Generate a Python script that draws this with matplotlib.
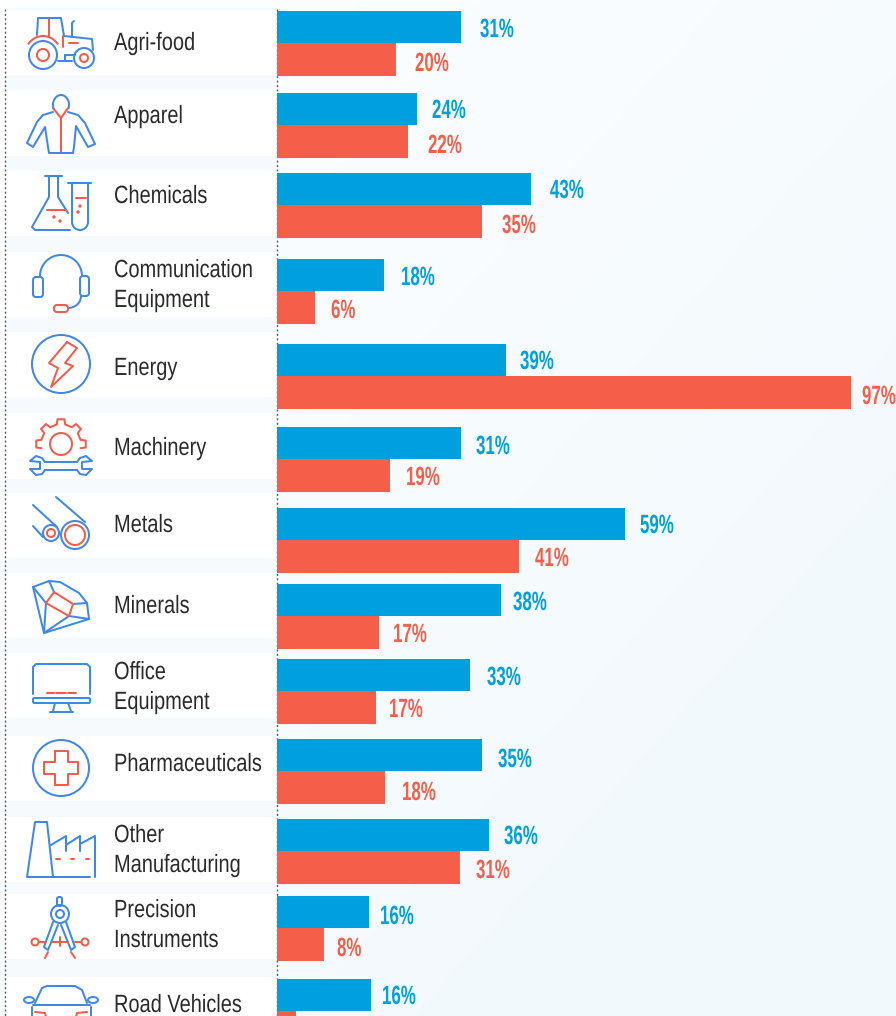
import numpy as np
import matplotlib
matplotlib.use("Agg")
import matplotlib.pyplot as plt
from matplotlib.patches import Circle, Ellipse, FancyBboxPatch, Rectangle, Arc
from matplotlib.patheffects import AbstractPathEffect
from matplotlib.text import Text
from matplotlib.transforms import Affine2D, Bbox

# ---- data ----
CATEGORIES = ["Agri-food", "Apparel", "Chemicals", "Communication\nEquipment", "Energy", "Machinery",
              "Metals", "Minerals", "Office\nEquipment", "Pharmaceuticals", "Other\nManufacturing",
              "Precision\nInstruments", "Road Vehicles"]
BLUE_VALUES = [31.1, 23.6, 42.9, 18.1, 38.6, 31.1, 58.8, 37.8, 32.6, 34.6, 35.8, 15.6, 15.9]
RED_VALUES = [20.1, 22.1, 34.6, 6.4, 97.0, 19.1, 40.9, 17.2, 16.7, 18.2, 30.9, 7.9, 3.2]

# ---- layout (pixels) ----
W, H = 896, 1016
X0, PX_PER_PCT = 277, 5.92
ROW_MID = [43, 125, 205, 291, 376, 459, 540, 616, 691, 771, 851, 928, 1011]
LABEL_BASE = [50, 123, 203, 307, 375, 455, 532, 613, 709, 771, 872, 947, 1012]
BLUE_LX = [480, 432, 550, 401, 520, 476, 640, 513, 487, 498, 504, 380, 382]
RED_LX = [415, 428, 502, 331, 862, 406, 535, 393, 389, 402, 476, 337]
BLUE_BASE = [37, 118, 198, 285, 369, 454, 533, 610, 685, 767, 844, 924, 1004]
RED_BASE = [71, 153, 233, 318, 404, 485, 566, 642, 717, 800, 878, 956]
WHITE_ROWS = [(10, 75), (91, 156), (171, 236), (252, 317), (332, 397), (413, 479), (493, 558),
              (573, 638), (653, 718), (736, 801), (817, 882), (894, 959), (977, 1016)]
BAR_H = 32.5
BLUE, RED = "#009fdd", "#f55f4a"
IC_B, IC_R = "#3f88e8", "#f25c4a"
FONT = ["Liberation Sans", "DejaVu Sans"]


class Condense(AbstractPathEffect):
    """Narrow a text horizontally about its own origin (the reference face is condensed)."""

    def __init__(self, sx):
        super().__init__()
        self.sx = sx

    def draw_path(self, renderer, gc, tpath, affine, rgbFace=None):
        renderer.draw_path(gc, tpath, Affine2D().scale(self.sx, 1) + affine, rgbFace)


class CondensedText(Text):
    """Left-anchored real text drawn narrower, reporting the width it actually occupies."""

    def __init__(self, *args, sx=1.0, **kwargs):
        super().__init__(*args, **kwargs)
        self.sx = sx
        self.set_path_effects([Condense(sx)])

    def get_window_extent(self, renderer=None, dpi=None):
        b = super().get_window_extent(renderer, dpi)
        return Bbox.from_extents(b.x0, b.y0, b.x0 + b.width * self.sx, b.y1)


fig = plt.figure(figsize=(W / 100, H / 100), dpi=100)

# background gradient
bg = fig.add_axes([0, 0, 1, 1], zorder=0)
bg.axis("off")
yy, xx = np.mgrid[0:1:200j, 0:1:200j]
t = np.clip((xx + yy) / 1.6, 0, 1)[..., None]
c0 = np.array([0xfe, 0xff, 0xff]) / 255
c1 = np.array([0xf2, 0xf9, 0xfd]) / 255
bg.imshow(c0 * (1 - t) + c1 * t, extent=(0, 1, 0, 1), origin="upper", aspect="auto")
bg.set_xlim(0, 1)
bg.set_ylim(0, 1)

# pixel-space overlay: panels, dotted rules, icons, labels
px = fig.add_axes([0, 0, 1, 1], zorder=1)
px.set_xlim(0, W)
px.set_ylim(H, 0)
px.axis("off")
px.patch.set_alpha(0)

px.add_patch(Rectangle((5, 8), 271, H, fc="#f6fafd", ec="none"))
for a, b in WHITE_ROWS:
    px.add_patch(Rectangle((5, a), 271, b - a, fc="white", ec="none"))
for x in (4.7, 276.5):
    px.plot([x, x], [9, H], color="#555555", lw=1.0, ls=(0, (1.4, 1.8)))

for name, y in zip(CATEGORIES, LABEL_BASE):
    px.add_artist(CondensedText(114, y, name, family=FONT, fontsize=18, color="#2a2a2a",
                                va="baseline", ha="left", linespacing=1.31, sx=0.80))

LW = 1.45


def L(col, *pts, close=False):
    p = list(pts) + ([pts[0]] if close else [])
    xs, ys = zip(*p)
    px.plot(xs, ys, color=col, lw=LW, solid_capstyle="round", solid_joinstyle="round")


def C(col, x, y, r):
    px.add_patch(Circle((x, y), r, fc="none", ec=col, lw=LW))


def D(col, x, y, r=1.7):
    px.add_patch(Circle((x, y), r, fc=col, ec="none"))


def A(col, x, y, rx, ry, a1, a2):
    px.add_patch(Arc((x, y), 2 * rx, 2 * ry, theta1=a1, theta2=a2, ec=col, lw=LW))


def RR(col, x0, y0, x1, y1, r=3):
    px.add_patch(FancyBboxPatch((x0 + r, y0 + r), x1 - x0 - 2 * r, y1 - y0 - 2 * r,
                                boxstyle=f"round,pad={r},rounding_size={r}", fc="none", ec=col, lw=LW))


# tractor
L(IC_B, (37, 35), (38, 18), (61, 18), (64, 36), (92, 39), (93, 50))
L(IC_B, (72, 36), (72, 23), (74, 21))
C(IC_B, 43, 55, 14); C(IC_R, 43, 55, 6)
C(IC_B, 84, 58, 10); C(IC_R, 84, 58, 4)
A(IC_R, 43, 55, 18, 19, 215, 325)
L(IC_R, (49, 19), (49, 36)); L(IC_R, (63, 36), (63, 47)); L(IC_R, (69, 43), (78, 43))
L(IC_B, (58, 61), (72, 61)); L(IC_B, (65, 55), (65, 61)); L(IC_B, (65, 55), (75, 55))

# apparel
A(IC_B, 61, 105, 8, 10, 150, 390)
L(IC_R, (53, 108), (61, 118), (68, 108)); L(IC_R, (61, 118), (61, 153))
L(IC_B, (53, 112), (43, 115), (37, 122), (27, 143), (33, 147), (45, 127), (48, 147), (49, 153),
  (73, 153), (74, 147), (76, 126), (88, 147), (95, 144), (85, 123), (78, 115), (68, 112))

# chemicals
L(IC_B, (45, 176), (62, 176))
L(IC_B, (49, 176), (49, 197), (32, 227), (35, 230), (70, 230))
L(IC_B, (58, 176), (58, 197), (68, 213))
L(IC_R, (47, 210), (66, 210)); D(IC_R, 54, 217); D(IC_R, 60, 221)
L(IC_B, (68, 183), (91, 183))
L(IC_B, (72, 183), (72, 222)); L(IC_B, (88, 183), (88, 222))
A(IC_B, 80, 222, 8, 8, 0, 180)
L(IC_R, (76, 198), (86, 198)); D(IC_R, 80, 206); D(IC_R, 78, 212)

# headset
A(IC_B, 61, 276, 21, 21, 180, 360)
RR(IC_B, 33, 277, 43, 297, 3); RR(IC_B, 80, 276, 89, 296, 3)
A(IC_B, 68, 296, 13, 12, 0, 90)
RR(IC_R, 54, 305, 68, 312, 3)

# energy
C(IC_B, 61, 364, 29)
L(IC_R, (67, 342), (77, 348), (65, 363), (73, 366), (51, 387), (58, 368), (49, 363), close=True)

# machinery
teeth = []
for a in (0, 45, 90, 135, 180):
    for da, r in ((-12, 20), (-8, 25), (8, 25), (12, 20)):
        th = np.radians(a + da)
        teeth.append((61 + r * np.cos(th), 444 - r * np.sin(th)))
L(IC_R, *teeth)
C(IC_R, 61, 444, 11)
L(IC_B, (45, 462), (77, 462)); L(IC_B, (45, 470), (77, 470))
L(IC_B, (45, 462), (42, 458), (36, 456), (30, 461), (40, 462), (40, 469), (30, 469), (36, 475), (42, 474), (45, 470))
L(IC_B, (77, 462), (80, 458), (86, 456), (92, 461), (82, 462), (82, 469), (92, 469), (86, 475), (80, 474), (77, 470))

# metals
L(IC_B, (33, 505), (57, 527)); L(IC_B, (56, 497), (85, 522)); L(IC_B, (33, 526), (43, 537))
C(IC_B, 51, 533, 8); C(IC_R, 51, 533, 4)
C(IC_B, 75, 535, 14); C(IC_R, 75, 535, 10)

# minerals
L(IC_B, (33, 587), (49, 581), (60, 582), (79, 593), (87, 603), (89, 619), (44, 633), close=True)
L(IC_B, (33, 587), (46, 603), (44, 633), (69, 616), (89, 619))
L(IC_B, (73, 604), (87, 603)); L(IC_B, (49, 581), (54, 592))
L(IC_R, (54, 592), (73, 604), (69, 616), (46, 603), close=True)

# office
L(IC_B, (33, 694), (33, 667), (36, 664), (87, 664), (90, 667), (90, 694))
RR(IC_B, 33, 698, 90, 703, 1.5)
L(IC_B, (55, 703), (53, 711)); L(IC_B, (68, 703), (71, 711)); L(IC_B, (50, 712), (73, 712))
L(IC_R, (47, 693), (54, 693)); L(IC_R, (56, 693), (66, 693)); L(IC_R, (68, 693), (76, 693))

# pharma
C(IC_B, 61, 768, 28)
L(IC_R, (55, 751), (68, 751), (68, 762), (78, 762), (78, 774), (68, 774), (68, 785), (55, 785),
  (55, 774), (44, 774), (44, 762), (55, 762), close=True)

# factory
L(IC_B, (53, 877), (47, 822), (35, 822), (27, 877), (90, 877))
L(IC_B, (95, 877), (95, 836), (80, 844), (80, 851)); L(IC_B, (80, 844), (80, 836), (66, 845), (66, 851))
L(IC_B, (66, 845), (66, 836), (51, 845))
for a, b in ((56, 60), (71, 74), (86, 89)):
    L(IC_R, (a, 859), (b, 859))

# compass
RR(IC_B, 57, 897, 62, 906, 2)
C(IC_B, 60, 914, 9); C(IC_B, 60, 914, 4)
L(IC_B, (53, 922), (44, 947), (48, 950), (58, 925))
L(IC_B, (66, 922), (75, 947), (71, 950), (61, 925))
L(IC_R, (48, 952), (45, 958)); L(IC_R, (71, 952), (75, 958))
C(IC_R, 35, 942, 3.5); C(IC_R, 85, 942, 3.5)
L(IC_R, (39, 942), (45, 942)); L(IC_R, (52, 942), (68, 942)); L(IC_R, (75, 942), (81, 942))
L(IC_R, (60, 937), (60, 946))

# car
L(IC_B, (35, 1003), (42, 988), (47, 986), (75, 986), (82, 990), (87, 1003))
L(IC_B, (33, 1005), (90, 1005))
L(IC_B, (32, 1007), (32, 1017)); L(IC_B, (91, 1007), (91, 1017))
px.add_patch(Ellipse((29, 1000), 10, 6, fc="none", ec=IC_B, lw=LW))
px.add_patch(Ellipse((93, 1000), 10, 6, fc="none", ec=IC_B, lw=LW))
L(IC_R, (35, 1012), (45, 1013), (46, 1017)); L(IC_R, (87, 1012), (77, 1013), (76, 1017))

# bars on a value axis
ax = fig.add_axes([0, 0, 1, 1], zorder=2)
ax.set_xlim(-X0 / PX_PER_PCT, (W - X0) / PX_PER_PCT)
ax.set_ylim(H, 0)
ax.axis("off")
ax.patch.set_alpha(0)
mid = np.array(ROW_MID, dtype=float)
ax.barh(mid - BAR_H, BLUE_VALUES, height=BAR_H, align="edge", color=BLUE, lw=0)
ax.barh(mid, RED_VALUES, height=BAR_H, align="edge", color=RED, lw=0)


def value_label(value, lx, base, col):
    ax.add_artist(CondensedText((lx - X0) / PX_PER_PCT, base, f"{round(value)}%", color=col, family=FONT,
                                weight="bold", fontsize=19, va="baseline", ha="left", sx=0.64))


for v, lx, b in zip(BLUE_VALUES, BLUE_LX, BLUE_BASE):
    value_label(v, lx, b, BLUE)
for v, lx, b in zip(RED_VALUES, RED_LX, RED_BASE):
    value_label(v, lx, b, RED)

fig.savefig("out.png", dpi=100)
